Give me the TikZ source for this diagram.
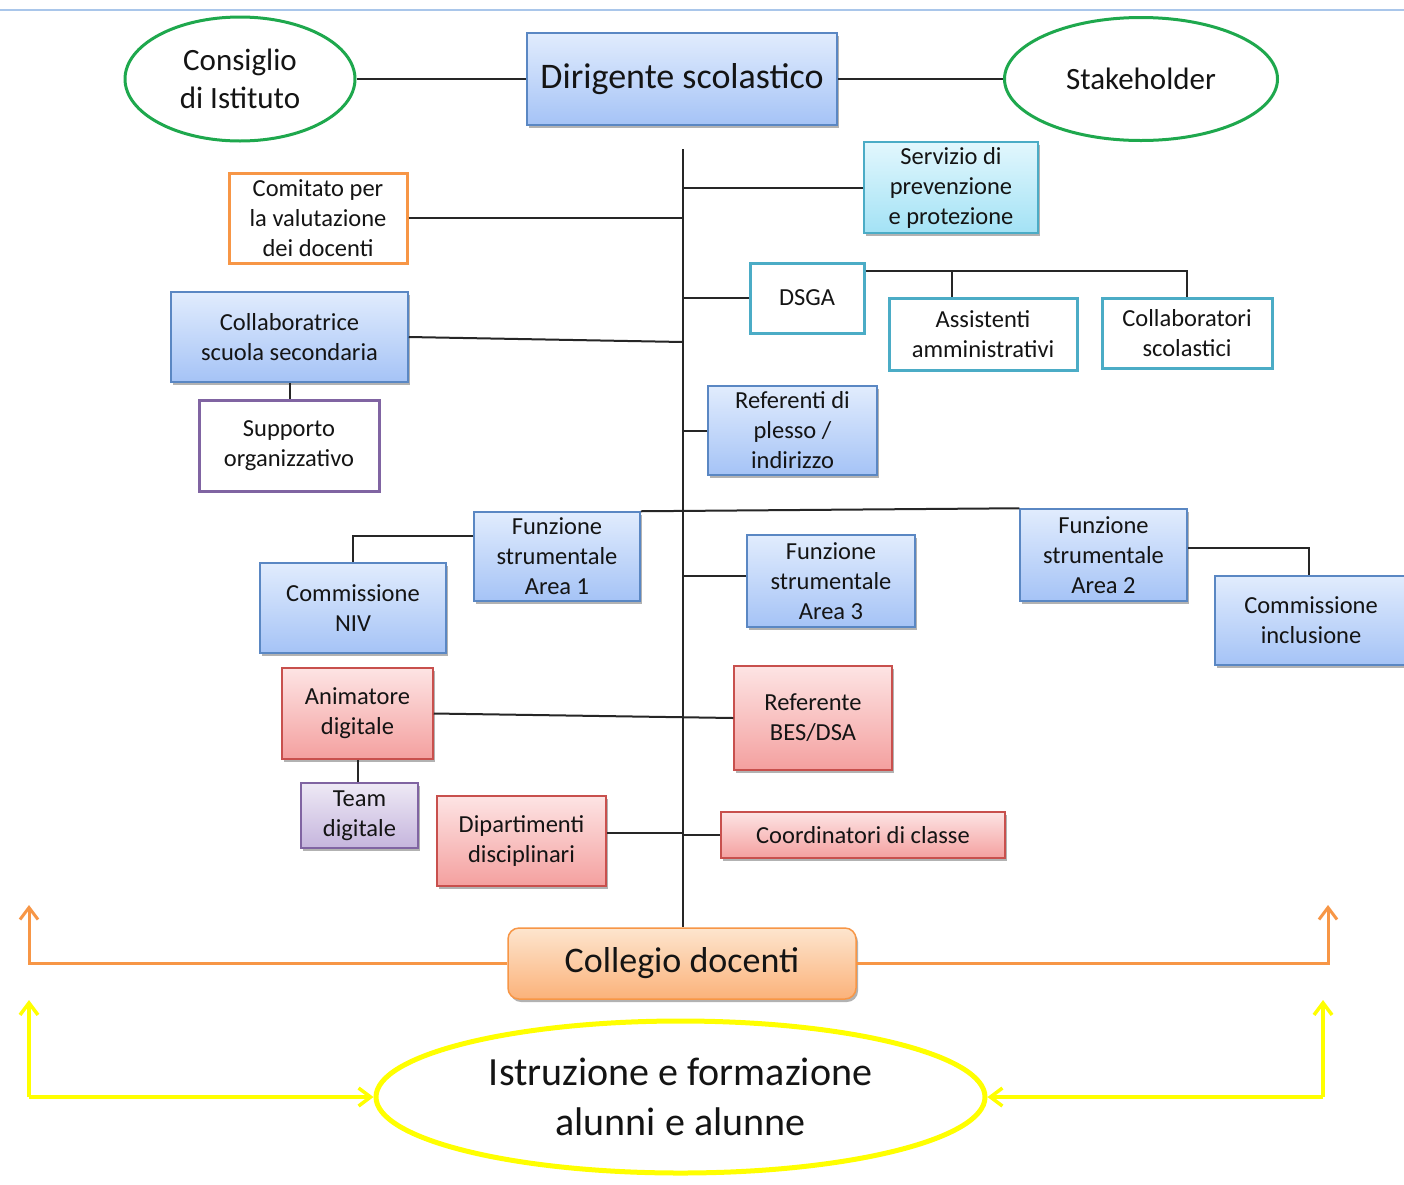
\documentclass[tikz,border=0pt]{standalone}
\usepackage{fontspec}
\setmainfont{Carlito}
\usetikzlibrary{shadows,arrows.meta,calc,shapes.geometric}
\definecolor{txt}{HTML}{141414}
\definecolor{bluetop}{HTML}{E1ECFD}
\definecolor{bluebot}{HTML}{A5C3F6}
\definecolor{blueline}{HTML}{5A87C3}
\definecolor{cyantop}{HTML}{E2F7FD}
\definecolor{cyanbot}{HTML}{A3E2F5}
\definecolor{teal}{HTML}{4BACC6}
\definecolor{redtop}{HTML}{FDE4E4}
\definecolor{redbot}{HTML}{F4A09F}
\definecolor{redline}{HTML}{C8504D}
\definecolor{purtop}{HTML}{EEE9F5}
\definecolor{purbot}{HTML}{C5B5DD}
\definecolor{purline}{HTML}{8064A2}
\definecolor{ortop}{HTML}{FDE5CE}
\definecolor{orbot}{HTML}{FBB27A}
\definecolor{orline}{HTML}{F79646}
\definecolor{grn}{HTML}{1EA84D}
\definecolor{yel}{HTML}{FFFF00}
\definecolor{topline}{HTML}{A9C6EA}
\tikzset{
  small/.style={font=\fontsize{24.5}{30}\selectfont, text=txt, align=center},
  shadowed/.style={drop shadow={shadow xshift=2pt, shadow yshift=-3pt, opacity=0.3, fill=black}},
  bluebox/.style={small, rectangle, draw=blueline, line width=1.5pt, top color=bluetop, bottom color=bluebot, shadowed},
  cyanbox/.style={small, rectangle, draw=teal, line width=1.5pt, top color=cyantop, bottom color=cyanbot, shadowed},
  redbox/.style={small, rectangle, draw=redline, line width=1.5pt, top color=redtop, bottom color=redbot, shadowed},
  purbox/.style={small, rectangle, draw=purline, line width=1.5pt, top color=purtop, bottom color=purbot, shadowed},
  tealbox/.style={small, rectangle, draw=teal, line width=3pt, fill=white},
  outbox/.style={small, rectangle, line width=3pt, fill=white},
  greenell/.style={ellipse, draw=grn, line width=3pt, fill=white, text=txt, align=center, font=\fontsize{31}{38}\selectfont, inner sep=0pt},
  conn/.style={draw=black!85, line width=2pt},
  orarrow/.style={draw=orline, line width=3pt, -{Straight Barb[length=12pt,width=18pt]}},
  yarrow/.style={draw=yel, line width=3.5pt, -{Straight Barb[length=12pt,width=18pt]}},
}
\begin{document}
\begin{tikzpicture}[x=1pt,y=-1pt]
\useasboundingbox (0,0) rectangle (1404,1184);
\fill[white] (0,0) rectangle (1404,1184);
\draw[topline, line width=1.5pt] (0,10) -- (1404,10);

% nodes
\node[greenell, minimum width=230pt, minimum height=124pt] (cons) at (240,79) {Consiglio\\di Istituto};
\node[bluebox, font=\fontsize{36}{43}\selectfont, minimum width=310pt, minimum height=92pt] (dir) at (682,79) {Dirigente scolastico};
\node[greenell, minimum width=273pt, minimum height=123pt] (stake) at (1141,79) {Stakeholder};

\node[cyanbox, minimum width=174pt, minimum height=91pt, inner sep=0pt] (serv) at (951,187.5) {Servizio di\\prevenzione\\e protezione};
\node[outbox, draw=orline, minimum width=178pt, minimum height=90pt, inner sep=0pt] (comit) at (318,218) {Comitato per\\la valutazione\\dei docenti};
\node[tealbox, minimum width=114pt, minimum height=70pt] (dsga) at (807,298) {DSGA};
\node[tealbox, minimum width=188pt, minimum height=72pt, inner sep=0pt] (assist) at (983,334) {Assistenti\\amministrativi};
\node[tealbox, minimum width=170pt, minimum height=70pt, inner sep=0pt] (collab) at (1187,333) {Collaboratori\\scolastici};
\node[bluebox, minimum width=237pt, minimum height=90pt, inner sep=0pt] (collabr) at (289.5,337) {Collaboratrice\\scuola secondaria};
\node[outbox, draw=purline, minimum width=180pt, minimum height=91pt, inner sep=0pt] (supp) at (289,445.5) {Supporto\\organizzativo};
\node[bluebox, minimum width=169pt, minimum height=89pt, inner sep=0pt] (ref) at (792.5,430.5) {Referenti di\\plesso /\\indirizzo};

\node[bluebox, minimum width=166pt, minimum height=89pt, inner sep=0pt] (fs1) at (557,556.5) {Funzione\\strumentale\\Area 1};
\node[bluebox, minimum width=186pt, minimum height=90pt, inner sep=0pt] (niv) at (353,608) {Commissione\\NIV};
\node[bluebox, minimum width=168pt, minimum height=92pt, inner sep=0pt] (fs3) at (831,581) {Funzione\\strumentale\\Area 3};
\node[bluebox, minimum width=167pt, minimum height=92pt, inner sep=0pt] (fs2) at (1103.5,555) {Funzione\\strumentale\\Area 2};
\node[bluebox, minimum width=192pt, minimum height=89pt, inner sep=0pt] (cinc) at (1311,620.5) {Commissione\\inclusione};

\node[redbox, minimum width=151pt, minimum height=91pt, inner sep=0pt] (anim) at (357.5,713.5) {Animatore\\digitale};
\node[redbox, minimum width=158pt, minimum height=104pt, inner sep=0pt] (bes) at (813,718) {Referente\\BES/DSA};
\node[purbox, minimum width=117pt, minimum height=65pt, inner sep=0pt] (team) at (359.5,815.5) {Team\\digitale};
\node[redbox, minimum width=169pt, minimum height=90pt, inner sep=0pt] (dip) at (521.5,841) {Dipartimenti\\disciplinari};
\node[redbox, minimum width=284pt, minimum height=46pt, inner sep=0pt] (coord) at (863,835) {Coordinatori di classe};

\node[rectangle, rounded corners=11pt, draw=orline, line width=1.5pt, top color=ortop, bottom color=orbot, shadowed, text=txt, font=\fontsize{36}{43}\selectfont, minimum width=348pt, minimum height=71pt] (coll) at (682,963.5) {Collegio docenti};
\node[ellipse, draw=yel, line width=5pt, fill=white, text=txt, align=center, font=\fontsize{40}{50}\selectfont, minimum width=609pt, minimum height=152pt, inner sep=0pt] (istr) at (680.5,1097) {Istruzione e formazione\\alunni e alunne};

% coordinates
\coordinate (ttop) at (683,149);
\coordinate (cslant) at (683,342);
\coordinate (oa1) at (29,905);
\coordinate (oa2) at (1328,905);
\coordinate (yl) at (29,1097);
\coordinate (ya1) at (29,1000);
\coordinate (yr) at (1323,1097);
\coordinate (ya2) at (1323,1000);

% connectors
\draw[conn] (cons.east) -- (dir.west);
\draw[conn] (dir.east) -- (stake.west);
\draw[conn] (ttop) -- (ttop |- coll.north);
\draw[conn] (serv.west) -- (serv.west -| ttop);
\draw[conn] (comit.east) -- (comit.east -| ttop);
\draw[conn] (dsga.west) -- (dsga.west -| ttop);
\coordinate (bus) at ($(dsga.north east)+(0,9)$);
\draw[conn] (bus) -| (collab.north);
\draw[conn] ($(assist.north)+(-31,0)$) -- ($(assist.north |- bus)+(-31,0)$);
\draw[conn] (collabr.east) -- (cslant);
\draw[conn] (collabr.south) -- (collabr.south |- supp.north);
\draw[conn] (ref.west) -- (ref.west -| ttop);
\draw[conn] (fs1.north east) -- (fs2.north west);
\draw[conn] ($(fs1.west)+(0,-21)$) -| (niv.north);
\draw[conn] ($(fs3.west)+(0,-5)$) -- ($(fs3.west -| ttop)+(0,-5)$);
\draw[conn] ($(fs2.east)+(0,-7)$) -| ($(cinc.north)+(-2,0)$);
\draw[conn] (anim.east) -- (bes.west);
\draw[conn] (anim.south) -- (anim.south |- team.north);
\draw[conn] ($(dip.east)+(0,-8)$) -- ($(dip.east -| ttop)+(0,-8)$);
\draw[conn] (coord.west) -- (coord.west -| ttop);

\draw[orarrow] (coll.west) -| (oa1);
\draw[orarrow] (coll.east) -| (oa2);
\draw[yarrow] (yl) -- (istr.west);
\draw[yarrow] (yl) -- (ya1);
\draw[yarrow] (yr) -- (istr.east);
\draw[yarrow] (yr) -- (ya2);
\end{tikzpicture}
\end{document}
